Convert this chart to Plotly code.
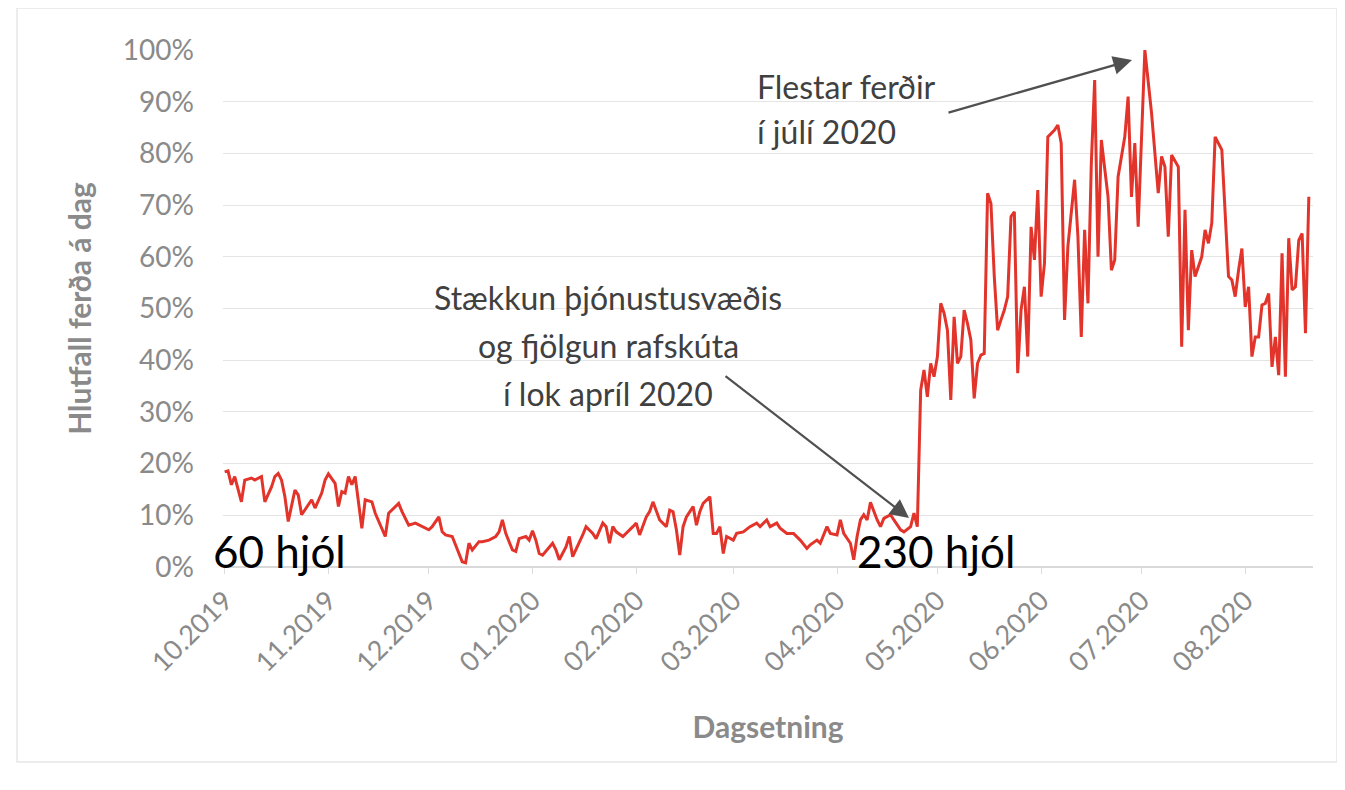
import pandas as pd
import plotly.graph_objects as go

# ---- data ----
start_date = "2019-10-01"
day_offset = [0, 1, 2, 3, 5, 6, 8, 9, 11, 12, 14, 15, 16, 17, 18, 19, 21, 22, 23, 25,
              26, 27, 29, 30, 31, 33, 34, 35, 36, 37, 38, 39, 41, 42, 44, 45, 48, 49, 51, 52,
              53, 55, 57, 59, 61, 62, 64, 65, 66, 68, 69, 71, 72, 73, 74, 76, 77, 79, 81, 82,
              83, 84, 86, 87, 88, 90, 91, 92, 93, 94, 95, 97, 98, 99, 100, 102, 103, 104, 105, 107,
              108, 110, 111, 113, 114, 115, 116, 117, 119, 120, 122, 123, 124, 126, 127, 128, 129, 130, 132, 133,
              134, 135, 136, 137, 138, 140, 141, 142, 143, 145, 146, 147, 148, 149, 150, 152, 153, 155, 157, 159,
              160, 162, 163, 165, 166, 168, 170, 172, 174, 175, 177, 178, 180, 181, 183, 184, 185, 187, 188, 189,
              190, 191, 192, 193, 195, 196, 197, 199, 200, 202, 203, 205, 206, 207, 208, 209, 210, 211, 212, 213,
              214, 215, 216, 217, 218, 219, 220, 221, 222, 223, 224, 225, 226, 227, 228, 229, 230, 231, 232, 233,
              234, 235, 236, 237, 238, 239, 240, 241, 242, 243, 244, 245, 246, 248, 249, 250, 251, 252, 254, 255,
              256, 257, 258, 259, 260, 261, 262, 264, 265, 266, 267, 269, 270, 271, 272, 273, 275, 277, 279, 280,
              281, 282, 283, 285, 286, 287, 288, 289, 290, 292, 293, 294, 295, 296, 298, 300, 301, 302, 303, 304,
              305, 306, 307, 308, 309, 310, 311, 312, 313, 314, 315, 316, 317, 318, 319, 320, 321, 322, 323, 324]
share_pct = [18.4, 18.6, 15.9, 17.5, 12.6, 16.8, 17.2, 16.8, 17.5, 12.6, 15.5, 17.5, 18.1, 16.8, 13.6, 8.8, 14.9, 13.9, 10.1, 12.0,
             13.0, 11.4, 14.3, 16.8, 18.0, 16.2, 11.7, 14.6, 14.3, 17.5, 15.9, 17.5, 7.5, 13.0, 12.6, 10.4, 5.9, 10.4, 11.7, 12.3,
             10.7, 8.1, 8.5, 7.8, 7.2, 7.8, 9.7, 6.8, 6.2, 5.9, 4.3, 1.0, 0.8, 4.6, 3.3, 4.9, 4.9, 5.2, 5.9, 6.8,
             9.1, 6.5, 3.3, 3.0, 5.5, 5.9, 5.2, 7.0, 5.2, 2.6, 2.3, 3.9, 4.6, 3.3, 1.4, 3.9, 5.9, 2.0, 3.3, 6.2,
             7.8, 6.5, 5.5, 8.5, 7.8, 4.6, 7.8, 6.8, 5.9, 6.5, 7.8, 8.5, 6.2, 9.7, 10.7, 12.6, 10.7, 9.1, 7.8, 11.0,
             10.7, 7.2, 2.3, 7.8, 9.7, 11.7, 8.1, 10.7, 12.3, 13.6, 6.5, 6.5, 7.8, 2.6, 5.9, 5.2, 6.5, 6.8, 7.8, 8.5,
             7.8, 9.1, 7.8, 8.5, 7.5, 6.5, 6.5, 5.2, 3.6, 4.3, 5.2, 4.6, 7.8, 6.5, 6.2, 9.1, 6.5, 4.6, 1.4, 5.9,
             9.1, 10.1, 9.1, 12.5, 9.1, 7.8, 9.4, 10.1, 9.1, 7.2, 6.8, 7.8, 10.4, 7.8, 34.2, 38.1, 32.9, 39.4, 36.8, 40.7,
             51.0, 49.1, 45.8, 32.3, 48.4, 39.4, 40.7, 49.7, 47.1, 43.9, 32.6, 39.4, 41.0, 41.3, 72.3, 70.3, 56.2, 45.8, 47.8, 49.7,
             52.3, 67.8, 68.7, 37.5, 49.7, 54.2, 40.7, 65.8, 59.4, 72.9, 52.3, 58.7, 83.2, 84.5, 85.5, 82.0, 47.8, 62.0, 74.9, 63.9,
             44.5, 65.2, 51.0, 78.1, 94.2, 60.0, 82.6, 71.6, 57.4, 59.4, 75.5, 83.2, 91.0, 71.6, 82.0, 65.8, 100.0, 87.8, 72.3, 79.4,
             77.4, 63.9, 79.7, 77.4, 42.6, 69.1, 45.8, 61.3, 56.2, 60.0, 65.2, 62.6, 66.5, 83.2, 80.7, 56.2, 55.5, 52.3, 57.4, 61.6,
             50.3, 54.2, 40.7, 44.5, 44.5, 50.7, 51.0, 52.9, 38.7, 44.5, 37.1, 60.7, 36.8, 63.6, 53.6, 54.2, 63.2, 64.5, 45.2, 71.6]

tick_dates = ["2019-10-01", "2019-11-01", "2019-12-01", "2020-01-01", "2020-02-01", "2020-03-01",
              "2020-04-01", "2020-05-01", "2020-06-01", "2020-07-01", "2020-08-01"]
tick_labels = ["10.2019", "11.2019", "12.2019", "01.2020", "02.2020", "03.2020",
               "04.2020", "05.2020", "06.2020", "07.2020", "08.2020"]

note_expand = ["Stækkun þjónustusvæðis", "og fjölgun rafskúta", "í lok apríl 2020"]
note_peak = ["Flestar ferðir", "í júlí 2020"]
label_before = "60 hjól"
label_after = "230 hjól"

dates = pd.Timestamp(start_date) + pd.to_timedelta(day_offset, unit="D")
values = [v / 100 for v in share_pct]

# page body has an 8px margin; work in window pixel coordinates
OFF = 8
W, H = 1345 - OFF, 790 - OFF
PL, PR, PT, PB = 223, 1313, 50, 567          # plot area in window pixels
L, T = PL - OFF, PT - OFF
R, B = W - (PR - OFF), H - (PB - OFF)
PW, PH = PR - PL, PB - PT


def px(xp, yp):
    return (xp - PL) / PW, (PB - yp) / PH


fig = go.Figure()
fig.add_trace(go.Scatter(x=dates, y=values, mode="lines",
                         line=dict(color="#e2342a", width=3), hoverinfo="x+y"))

gray = "#8a8a8a"
fig.update_layout(
    width=W, height=H, margin=dict(l=L, r=R, t=T, b=B, autoexpand=False),
    paper_bgcolor="white", plot_bgcolor="white", showlegend=False,
    font=dict(family="Lato", color=gray),
    xaxis=dict(type="date", range=["2019-09-30 12:00", "2020-08-21 06:00"], automargin=False,
               tickvals=tick_dates, ticktext=tick_labels, tickangle=-45,
               tickfont=dict(size=27, color=gray), showgrid=False, zeroline=False,
               ticks="outside", ticklen=6, tickcolor="#dddddd", showline=False,
               title=dict(text="<b>Dagsetning</b>", font=dict(size=30, color=gray), standoff=40)),
    yaxis=dict(range=[0, 1.0], dtick=0.1, tickformat=".0%", tickfont=dict(size=28, color=gray),
               showgrid=True, gridcolor="#e4e4e4", gridwidth=1, zeroline=True, zerolinecolor="#d9d9d9",
               ticks="", ticklabelstandoff=28, showline=False, automargin=False,
               title=dict(text="<b>Hlutfall ferða á dag</b>", font=dict(size=30, color=gray), standoff=22)),
)

txt = "#404040"
annots = []
for i, line in enumerate(note_expand):
    x, y = px(608, 297 + 48 * i)
    annots.append(dict(x=x, y=y, xref="paper", yref="paper", showarrow=False,
                       xanchor="center", yanchor="middle", text=line,
                       font=dict(size=32, color=txt, family="Lato")))
for i, line in enumerate(note_peak):
    x, y = px(755, 86 + 45 * i)
    annots.append(dict(x=x, y=y, xref="paper", yref="paper", showarrow=False,
                       xanchor="left", yanchor="middle", text=line,
                       font=dict(size=32, color=txt, family="Lato")))
x, y = px(279, 551)
annots.append(dict(x=x, y=y, xref="paper", yref="paper", showarrow=False,
                   xanchor="center", yanchor="middle",
                   text=label_before, font=dict(size=44, color="black", family="Lato")))
x, y = px(936, 551)
annots.append(dict(x=x, y=y, xref="paper", yref="paper", showarrow=False,
                   xanchor="center", yanchor="middle",
                   text=label_after, font=dict(size=44, color="black", family="Lato")))
# arrows
x, y = px(1132, 60)
annots.append(dict(x=x, y=y, xref="paper", yref="paper", text="", showarrow=True,
                   ax=947 - 1132, ay=113 - 60, arrowhead=2, arrowsize=1.7, arrowwidth=2.2,
                   arrowcolor="#505050"))
x, y = px(909, 518)
annots.append(dict(x=x, y=y, xref="paper", yref="paper", text="", showarrow=True,
                   ax=724 - 909, ay=375 - 518, arrowhead=2, arrowsize=1.7, arrowwidth=2.2,
                   arrowcolor="#505050"))
fig.update_layout(annotations=annots)

# light frame around the chart
x0, y0 = px(17, 762)
x1, y1 = px(1337, 8)
fig.add_shape(type="rect", xref="paper", yref="paper", x0=x0, y0=y0, x1=x1, y1=y1,
              line=dict(color="#e6e6e6", width=1.5), layer="below")

fig.write_html("out.html")
